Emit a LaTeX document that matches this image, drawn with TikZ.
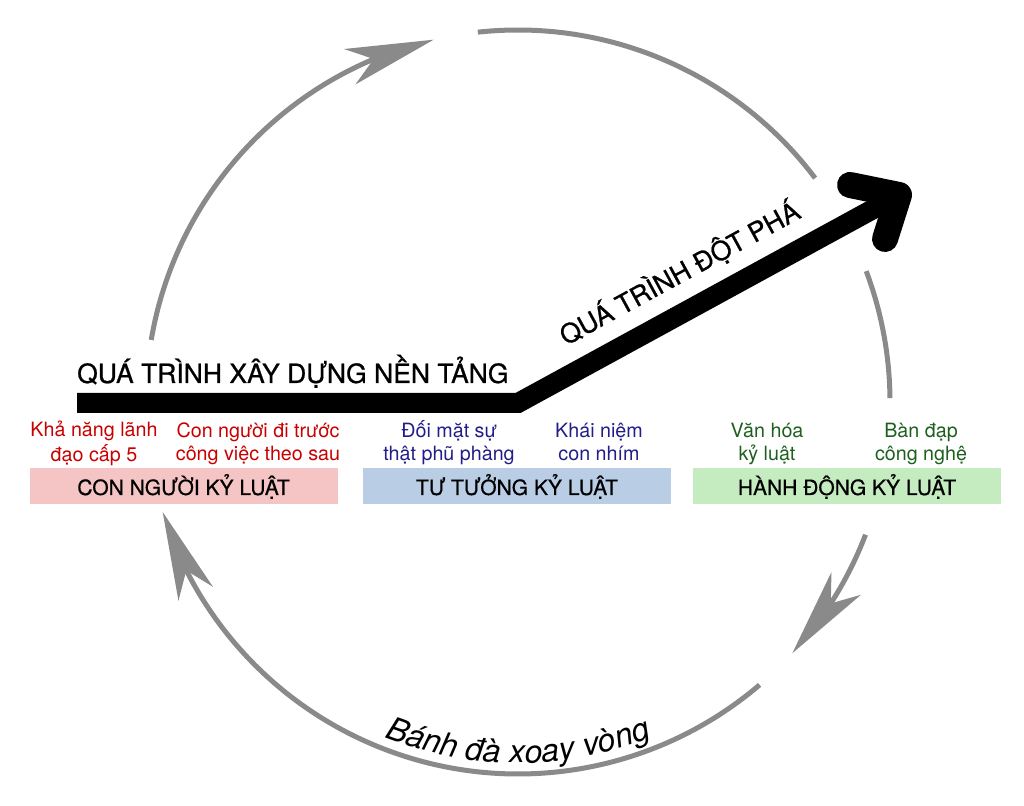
\documentclass[tikz,border=0pt]{standalone}
\usepackage{fontspec}
\setmainfont{TeX Gyre Heros}
\newfontfamily\headfont{TeX Gyre Heros}[FakeBold=0.8]
\newfontfamily\labfont{TeX Gyre Heros}[FakeBold=0.6]
\usetikzlibrary{arrows.meta,bending,decorations.text}
\definecolor{ringgray}{RGB}{138,138,138}
\definecolor{pinkbox}{RGB}{245,196,196}
\definecolor{bluebox}{RGB}{185,205,228}
\definecolor{greenbox}{RGB}{197,235,192}
\definecolor{redtxt}{RGB}{200,0,0}
\definecolor{bluetxt}{RGB}{35,30,135}
\definecolor{greentxt}{RGB}{30,95,30}
\newcommand{\vstr}{\rule[-6.9pt]{0pt}{23pt}}
\begin{document}
\begin{tikzpicture}[x=1pt,y=1pt,
  ring/.style={draw=ringgray, line width=5pt},
  ringtip/.style={ring, -{Stealth[length=88pt,width=37pt,inset=25pt,flex]}},
  boxlab/.style={minimum width=308pt, minimum height=36pt, inner sep=0pt, font=\labfont\fontsize{21}{25}\selectfont, text height=18pt, text depth=0pt},
  subtxt/.style={align=center, inner sep=0pt, font=\fontsize{19.7}{23}\selectfont},
  headline/.style={inner sep=0pt, font=\headfont\fontsize{26.5}{31}\selectfont}]

\useasboundingbox (0,0) rectangle (1024,805);
\coordinate (C) at (518,403);

% flywheel ring
\draw[ringtip] ([shift={(170.4:372)}]C) arc[start angle=170.4, end angle=103.1, radius=372];
\draw[ring] ([shift={(96.2:372)}]C) arc[start angle=96.2, end angle=37, radius=372];
\draw[ring] ([shift={(20.6:372)}]C) arc[start angle=20.6, end angle=0.6, radius=372];
\draw[ringtip] ([shift={(-20.9:372)}]C) arc[start angle=-20.9, end angle=-42.5, radius=372];
\draw[ringtip] ([shift={(-49.5:372)}]C) arc[start angle=-49.5, end angle=-162.8, radius=372];

% curved label
\path[decorate, decoration={text along path, text align=center,
  text={|\fontsize{32}{36}\selectfont\itshape|Bánh đà xoay vòng}}]
  ([shift={(-125:361)}]C) arc[start angle=-125, end angle=-55, radius=361];

% main black arrow
\coordinate (s0) at (77,402);
\coordinate (kink) at (518,402);
\coordinate (tip) at (899,610);
\coordinate (a1) at (850,620);
\coordinate (a2) at (885,566);
\draw[line width=20pt, line join=miter] (s0) -- (kink) -- (tip);
\draw[line width=26pt, line cap=round, line join=round] (a1) -- (tip) -- (a2);

\node[headline, anchor=base west] (t1) at (77,422) {QUÁ TRÌNH XÂY DỰNG NỀN TẢNG};
\node[headline, anchor=base west, rotate=28.6] (t2) at (566,459) {QUÁ TRÌNH ĐỘT PHÁ};

% boxes
\node[boxlab, fill=pinkbox] (b1) at (183.5,319) {CON NGƯỜI KỶ LUẬT};
\node[boxlab, fill=bluebox] (b2) at (517,319) {TƯ TƯỞNG KỶ LUẬT};
\node[boxlab, fill=greenbox] (b3) at (847,319) {HÀNH ĐỘNG KỶ LUẬT};

% sub texts
\node[subtxt, text=redtxt] (r1) at (94,361) {\vstr Khả năng lãnh\\\vstr đạo cấp 5};
\node[subtxt, text=redtxt] (r2) at (258,361) {\vstr Con người đi trước\\\vstr công việc theo sau};
\node[subtxt, text=bluetxt] (u1) at (449,361) {\vstr Đối mặt sự\\\vstr thật phũ phàng};
\node[subtxt, text=bluetxt] (u2) at (599,361) {\vstr Khái niệm\\\vstr con nhím};
\node[subtxt, text=greentxt] (g1) at (767,361) {\vstr Văn hóa\\\vstr kỷ luật};
\node[subtxt, text=greentxt] (g2) at (921,361) {\vstr Bàn đạp\\\vstr công nghệ};
\end{tikzpicture}
\end{document}
